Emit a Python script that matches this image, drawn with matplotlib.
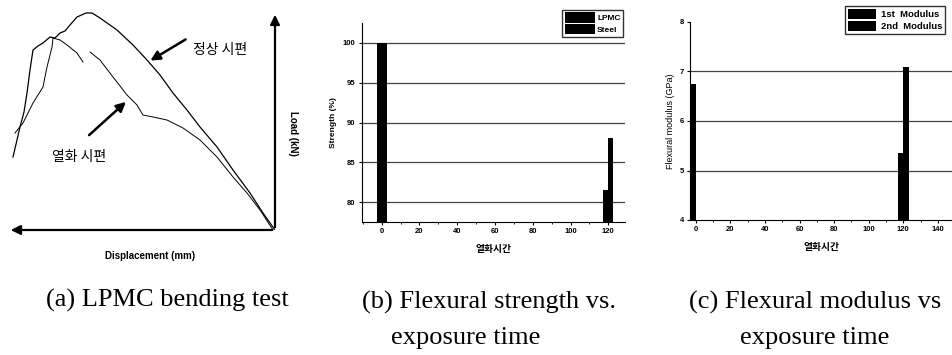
import numpy as np
import matplotlib
matplotlib.use("Agg")
import matplotlib.pyplot as plt

plt.rcParams['font.family'] = ['Liberation Sans', 'Noto Sans CJK KR', 'DejaVu Sans']

# (a) schematic load-displacement curves (arbitrary units)
normal_disp = [262, 258, 255, 251, 248, 245, 242, 237, 232, 225, 220, 215, 210, 205, 198, 189,
               183, 175, 158, 142, 128, 115, 102, 88, 75, 58, 42, 25, 12, 0]
normal_load = [73, 90, 103, 118, 137, 160, 180, 184, 187, 193, 192, 197, 199, 205, 213, 217,
               217, 212, 200, 185, 170, 155, 137, 120, 103, 83, 60, 37, 17, 0]
degraded_disp = [260, 252, 242, 232, 228, 223, 222, 215, 208, 198, 192, np.nan, 185, 175, 162,
                 148, 138, 132, 122, 108, 92, 75, 58, 42, 28, 15, 2]
degraded_load = [97, 107, 127, 143, 163, 183, 192, 190, 185, 177, 168, np.nan, 178, 170, 153,
                 135, 125, 115, 113, 110, 102, 90, 73, 53, 37, 20, 0]

# (b) flexural strength
hours = [0, 120]
strength_lpmc = [100, 81.5]
strength_steel = [100, 88]

# (c) flexural modulus
modulus_1st = [6.75, 5.35]
modulus_2nd = [np.nan, 7.1]

W, H = 953, 355
fig = plt.figure(figsize=(W / 100, H / 100), dpi=100)


def px_axes(left, right, top, bottom):
    return fig.add_axes([left / W, (H - bottom) / H, (right - left) / W, (bottom - top) / H])


kr = ['Noto Sans CJK KR']

# ---- (a)
ax = px_axes(8, 275, 12, 230)
ax.set_xlim(267, 0)
ax.set_ylim(0, 218)
ax.axis('off')
ax.plot(normal_disp, normal_load, color='black', lw=0.9)
ax.plot(degraded_disp, degraded_load, color='black', lw=0.7)
ax.annotate('', xy=(267, 0), xytext=(0, 0),
            arrowprops=dict(arrowstyle='-|>', color='black', lw=1.6, mutation_scale=14),
            annotation_clip=False)
ax.annotate('', xy=(0, 218), xytext=(0, 0),
            arrowprops=dict(arrowstyle='-|>', color='black', lw=1.6, mutation_scale=14),
            annotation_clip=False)
ax.annotate('', xy=(127, 168), xytext=(87, 192),
            arrowprops=dict(arrowstyle='-|>', color='black', lw=1.8, mutation_scale=14))
ax.annotate('', xy=(147, 130), xytext=(188, 93),
            arrowprops=dict(arrowstyle='-|>', color='black', lw=1.8, mutation_scale=14))
ax.text(82, 180, '정상 시편', family=kr, fontsize=10, ha='left', va='center')
ax.text(223, 73, '열화 시편', family=kr, fontsize=10, ha='left', va='center')
ax.text(-18, 97, 'Load (kN)', fontsize=7, fontweight='bold', rotation=270,
        ha='center', va='center', clip_on=False)
ax.text(125, -26, 'Displacement (mm)', fontsize=7, fontweight='bold',
        ha='center', va='center', clip_on=False)


def style_bar_axes(ax):
    ax.spines['top'].set_visible(False)
    ax.spines['right'].set_visible(False)
    ax.tick_params(labelsize=5.5, length=2.5, width=0.8, pad=2)
    ax.tick_params(which='minor', length=1.5, width=0.6)
    for lab in ax.get_xticklabels() + ax.get_yticklabels():
        lab.set_fontweight('bold')
    ax.yaxis.grid(True, color='#444444', lw=0.9)
    ax.set_axisbelow(True)


# ---- (b)
ax = px_axes(362, 625, 23, 222)
x = np.array(hours)
ax.bar(x - 1.3, strength_lpmc, width=2.6, color='black', label='LPMC')
ax.bar(x + 1.3, strength_steel, width=2.6, color='black', label='Steel')
ax.set_xlim(-10.4, 128.8)
ax.set_ylim(77.5, 102.5)
ax.set_xticks(range(0, 121, 20))
ax.set_xticks(range(-10, 129, 10), minor=True)
ax.set_yticks(range(80, 101, 5))
style_bar_axes(ax)
ax.set_ylabel('Strength (%)', fontsize=6, fontweight='bold', labelpad=4)
ax.set_xlabel('열화시간', family=kr, fontsize=7, fontweight='bold', labelpad=6)
fig.legend(*ax.get_legend_handles_labels(), loc='upper left',
           bbox_to_anchor=(562 / W, 1 - 10 / H), prop=dict(size=6, weight='bold'),
           frameon=True, fancybox=False, edgecolor='black', handlelength=3.6,
           handleheight=1.5, borderpad=0.3, labelspacing=0.15, handletextpad=0.3,
           borderaxespad=0)

# ---- (c)
ax = px_axes(690, 953, 22, 220)
ax.bar(x - 1.5, modulus_1st, width=3, color='black', label='1st  Modulus')
ax.bar(x + 1.5, modulus_2nd, width=3, color='black', label='2nd  Modulus')
ax.set_xlim(-3.3, 148.7)
ax.set_ylim(4, 8)
ax.set_xticks(range(0, 141, 20))
ax.set_xticks(range(0, 149, 10), minor=True)
ax.set_yticks(range(4, 9))
style_bar_axes(ax)
ax.yaxis.grid(False)
for v in (5, 6, 7):
    ax.axhline(v, color='#444444', lw=0.9, zorder=0)
ax.set_ylabel('Flexural modulus (GPa)', fontsize=6.5, labelpad=3)
ax.set_xlabel('열화시간', family=kr, fontsize=7, fontweight='bold', labelpad=6)
fig.legend(*ax.get_legend_handles_labels(), loc='upper left',
           bbox_to_anchor=(845 / W, 1 - 6 / H), prop=dict(size=6.8, weight='bold'),
           frameon=True, fancybox=False, edgecolor='black', handlelength=3.0,
           handleheight=1.3, borderpad=0.3, labelspacing=0.2, handletextpad=0.5,
           borderaxespad=0)

# captions
cap = dict(family=['Liberation Serif'], fontsize=19, ha='center', va='center')
fig.text(167 / W, 1 - 300 / H, '(a) LPMC bending test', **cap)
fig.text(489 / W, 1 - 302 / H, '(b) Flexural strength vs.', **cap)
fig.text(466 / W, 1 - 338 / H, 'exposure time', **cap)
fig.text(815 / W, 1 - 302 / H, '(c) Flexural modulus vs', **cap)
fig.text(815 / W, 1 - 338 / H, 'exposure time', **cap)

fig.savefig('out.png', dpi=100)
